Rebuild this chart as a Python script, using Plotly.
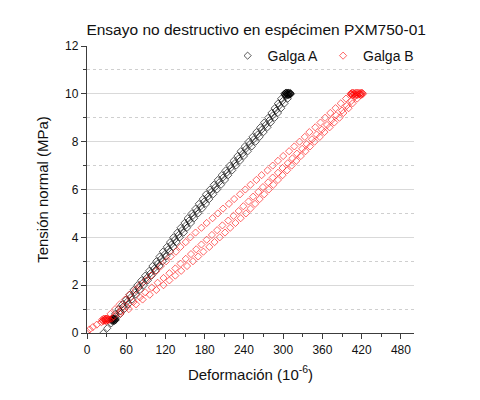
import plotly.graph_objects as go

# niveles de tension (MPa) de cada rama de carga / descarga
tension = [0.6, 0.8, 1.0, 1.2, 1.4, 1.6, 1.8, 2.0, 2.2, 2.4, 2.6, 2.8,
           3.0, 3.2, 3.4, 3.6, 3.8, 4.0, 4.2, 4.4, 4.6, 4.8, 5.0, 5.2,
           5.4, 5.6, 5.8, 6.0, 6.2, 6.4, 6.6, 6.8, 7.0, 7.2, 7.4, 7.6,
           7.8, 8.0, 8.2, 8.4, 8.6, 8.8, 9.0, 9.2, 9.4, 9.6, 9.8, 10.0]
# niveles intermedios (segundo ciclo)
tension_m = [0.7, 0.9, 1.1, 1.3, 1.5, 1.7, 1.9, 2.1, 2.3, 2.5, 2.7, 2.9,
             3.1, 3.3, 3.5, 3.7, 3.9, 4.1, 4.3, 4.5, 4.7, 4.9, 5.1, 5.3,
             5.5, 5.7, 5.9, 6.1, 6.3, 6.5, 6.7, 6.9, 7.1, 7.3, 7.5, 7.7,
             7.9, 8.1, 8.3, 8.5, 8.7, 8.9, 9.1, 9.3, 9.5, 9.7, 9.9]

# Galga A - deformacion (10^-6)
galga_a_carga = [39, 43, 48, 54, 60, 65, 71, 77, 83, 89, 95, 100,
                 106, 111, 116, 122, 127, 132, 138, 143, 149, 154, 160, 166,
                 171, 177, 182, 188, 194, 200, 206, 212, 218, 224, 230, 235,
                 241, 247, 253, 259, 265, 271, 277, 282, 287, 292, 297, 302]
galga_a_descarga = [44, 51, 57, 63, 69, 75, 81, 87, 93, 99, 105, 111,
                    116, 121, 127, 132, 137, 142, 148, 153, 159, 164, 170, 176,
                    182, 187, 193, 199, 205, 211, 216, 222, 228, 234, 240, 246,
                    252, 258, 264, 270, 276, 281, 287, 292, 297, 302, 307, 311]
galga_a_ciclo2 = [44, 50, 55, 61, 67, 73, 79, 85, 91, 97, 103, 108,
                  113, 119, 124, 129, 134, 140, 145, 151, 156, 162, 168, 174,
                  179, 185, 190, 196, 202, 208, 214, 220, 226, 232, 238, 243,
                  249, 255, 261, 267, 273, 279, 284, 289, 294, 299, 304]
# puntos de mantenimiento de carga (arriba y abajo) y descarga final
galga_a_max_x = [302, 303, 303.5, 304, 304.5, 305, 305.5, 306, 306.5,
                 307, 307.5, 308, 308.5, 309, 309.5, 310, 311, 312]
galga_a_max_y = [10.0, 9.96, 10.04, 9.95, 10.05, 9.98, 10.02, 9.95, 10.05,
                 9.96, 10.04, 9.95, 10.05, 9.98, 10.02, 9.96, 10.04, 10.0]
galga_a_min_x = [37, 38, 38.5, 39, 39.5, 40, 40.5, 41, 41.5, 42, 42.5, 43, 44]
galga_a_min_y = [0.55, 0.51, 0.59, 0.5, 0.6, 0.53, 0.57, 0.5, 0.6, 0.51, 0.59, 0.54, 0.55]
galga_a_cola_x = [37, 31, 25]
galga_a_cola_y = [0.4, 0.2, 0.0]

# Galga B - deformacion (10^-6)
galga_b_carga = [30, 36, 43, 50, 58, 65, 74, 81, 90, 98, 106, 113,
                 121, 128, 136, 143, 151, 158, 166, 175, 183, 192, 200, 208,
                 217, 225, 234, 242, 250, 259, 267, 276, 284, 292, 300, 309,
                 317, 325, 333, 340, 349, 357, 364, 372, 380, 388, 396, 404]
galga_b_descarga = [38, 51, 64, 75, 85, 96, 106, 117, 126, 135, 144, 153,
                    162, 170, 178, 187, 195, 203, 211, 219, 227, 235, 243, 250,
                    257, 264, 271, 278, 285, 292, 299, 306, 313, 320, 327, 334,
                    341, 348, 356, 363, 371, 378, 386, 392, 400, 406, 413, 419]
galga_b_ciclo2 = [41, 52, 61, 71, 81, 89, 99, 108, 117, 126, 135, 143,
                  151, 159, 167, 175, 183, 191, 199, 207, 216, 224, 232, 239,
                  247, 254, 262, 269, 277, 284, 292, 299, 307, 314, 321, 329,
                  336, 344, 351, 359, 367, 374, 381, 390, 397, 404, 410]
galga_b_max_x = [403, 404, 405, 406, 407, 408, 409, 410, 411, 412,
                 413, 414, 415, 416, 417, 418, 419, 420, 421, 422]
galga_b_max_y = [10.0, 9.96, 10.04, 9.95, 10.05, 9.98, 10.02, 9.95, 10.05, 9.96,
                 10.04, 9.95, 10.05, 9.98, 10.02, 9.95, 10.05, 9.96, 10.04, 10.0]
galga_b_min_x = [23, 24, 25, 26, 27, 27.5, 28, 28.5, 29, 30, 31, 32, 33, 34]
galga_b_min_y = [0.55, 0.51, 0.59, 0.5, 0.6, 0.53, 0.57, 0.5, 0.6, 0.51, 0.59, 0.53, 0.57, 0.55]
galga_b_cola_x = [22, 15, 9, 4, 0]
galga_b_cola_y = [0.45, 0.35, 0.25, 0.15, 0.05]


def lazo(min_x, min_y, carga, max_x, max_y, descarga, ciclo2, cola_x, cola_y):
    x = min_x + carga + max_x + descarga[::-1] + cola_x + ciclo2
    y = min_y + tension + max_y + tension[::-1] + cola_y + tension_m
    return x, y


xa, ya = lazo(galga_a_min_x, galga_a_min_y, galga_a_carga, galga_a_max_x, galga_a_max_y,
              galga_a_descarga, galga_a_ciclo2, galga_a_cola_x, galga_a_cola_y)
xb, yb = lazo(galga_b_min_x, galga_b_min_y, galga_b_carga, galga_b_max_x, galga_b_max_y,
              galga_b_descarga, galga_b_ciclo2, galga_b_cola_x, galga_b_cola_y)

fuente = "Arial, Liberation Sans, sans-serif"
eje = "#3c3c3c"

fig = go.Figure()
fig.add_trace(go.Scatter(name="Galga A", x=xa, y=ya, mode="markers",
                         marker=dict(symbol="diamond-open", size=5.5,
                                     color="rgba(0,0,0,0.65)",
                                     line=dict(width=1))))
fig.add_trace(go.Scatter(name="Galga B", x=xb, y=yb, mode="markers",
                         marker=dict(symbol="diamond-open", size=5.5,
                                     color="rgba(255,0,0,0.6)",
                                     line=dict(width=1))))

fig.update_layout(
    width=480, height=400,
    margin=dict(l=79, r=74, t=38, b=75),
    paper_bgcolor="white", plot_bgcolor="white",
    font=dict(family=fuente, size=12, color="#111111"),
    title=dict(text="Ensayo no destructivo en espécimen PXM750-01",
               x=0.517, xref="container", xanchor="center",
               y=0.945, yref="container", yanchor="middle",
               font=dict(size=15.5, color="#111111")),
    showlegend=True,
    legend=dict(orientation="h", x=0.43, xanchor="left", y=0.965, yanchor="middle",
                font=dict(size=14), bgcolor="rgba(0,0,0,0)", itemclick=False),
)

fig.update_xaxes(
    title=dict(text="Deformación (10<sup>-6</sup>)", font=dict(size=15), standoff=13),
    range=[0, 500], tickvals=[0, 60, 120, 180, 240, 300, 360, 420, 480],
    showgrid=False, zeroline=False,
    showline=True, linecolor=eje, linewidth=1.3,
    ticks="outside", ticklen=5, tickcolor=eje, tickwidth=1.3,
    minor=dict(tickvals=[30, 90, 150, 210, 270, 330, 390, 450], ticks="outside",
               ticklen=3, tickcolor=eje, tickwidth=1),
)
fig.update_yaxes(
    title=dict(text="Tensión normal (MPa)", font=dict(size=15), standoff=12),
    range=[0, 12], tickvals=[0, 2, 4, 6, 8, 10, 12],
    showgrid=True, gridcolor="#d9d9d9", gridwidth=1, zeroline=False,
    showline=True, linecolor=eje, linewidth=1.3,
    ticks="outside", ticklen=5, tickcolor=eje, tickwidth=1.3,
    minor=dict(tickvals=[1, 3, 5, 7, 9, 11], ticks="outside", ticklen=3,
               tickcolor=eje, tickwidth=1, showgrid=True,
               gridcolor="#cfcfcf", griddash="dot", gridwidth=1),
)

fig.write_html("out.html")
